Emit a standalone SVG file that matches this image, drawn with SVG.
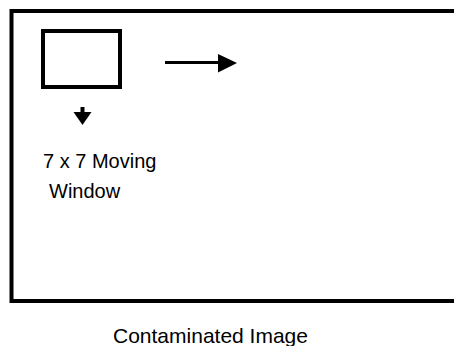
<svg xmlns="http://www.w3.org/2000/svg" width="454" height="346" viewBox="0 0 454 346">
<style>
.t{font-family:"Liberation Sans",Arial,sans-serif;font-size:20px;fill:#000}
.s{fill:none;stroke:#000}
</style>
<rect width="454" height="346" fill="#fff"/>
<g id="image">
<path class="s" stroke-width="4" d="M470 11H11.5V301H470"/>
</g>
<g id="window">
<rect class="s" x="43" y="31" width="77" height="56" stroke-width="4"/>
</g>
<g id="connectors">
<line class="s" x1="165" y1="62.5" x2="219" y2="62.5" stroke-width="3"/>
<polygon points="218,54 237,63 218,72.5" fill="#000"/>
<line class="s" x1="82.5" y1="107" x2="82.5" y2="113" stroke-width="4"/>
<polygon points="73.5,112 91.5,112 82.5,125" fill="#000"/>
</g>
<g id="labels">
<text class="t" x="43" y="168">7 x 7 Moving</text>
<text class="t" x="49" y="198">Window</text>
<text class="t" x="113" y="343" style="font-size:21px">Contaminated Image</text>
</g>
</svg>
